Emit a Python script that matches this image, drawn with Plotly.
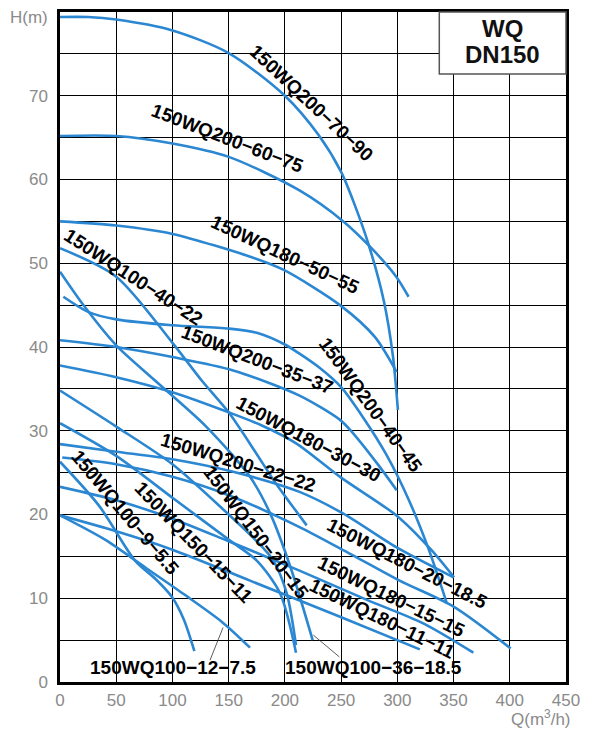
import plotly.graph_objects as go

# ---- data (Q in m3/h, H in m) ----
names = [
    "150WQ200−70−90", "150WQ200−60−75", "150WQ180−50−55", "150WQ100−40−22",
    "150WQ100−36−18.5", "150WQ200−40−45", "150WQ200−35−37", "150WQ180−30−30",
    "150WQ200−22−22", "150WQ180−20−18.5", "150WQ180−15−15", "150WQ180−11−11",
    "150WQ100−12−7.5", "150WQ100−9−5.5", "150WQ150−20−15", "150WQ150−15−11",
]
q_200_70_90 = [0, 25, 50, 100, 150, 200, 230, 250, 262, 275, 288, 296, 300.5]
h_200_70_90 = [79.4, 79.4, 79.1, 77.8, 75.1, 70.0, 65.3, 60.9, 57.0, 52.0, 45.5, 39.0, 32.5]
q_200_60_75 = [0, 50, 100, 150, 213, 252, 277, 299, 310]
h_200_60_75 = [65.2, 65.2, 64.3, 62.7, 58.7, 55.0, 51.8, 48.4, 46.0]
q_180_50_55 = [0, 50, 100, 173, 199, 249, 280, 299.4]
h_180_50_55 = [55.0, 54.5, 53.5, 50.6, 49.2, 45.0, 41.2, 37.0]
q_100_40_22 = [0, 50, 100, 126, 150, 175, 190, 219.4]
h_100_40_22 = [51.8, 48.4, 40.5, 36.0, 32.2, 27.2, 24.1, 18.7]
q_100_36_18 = [0, 22, 50, 84.5, 130, 169, 187, 205, 224.7]
h_100_36_18 = [49.0, 44.8, 40.2, 36.0, 30.5, 24.5, 20.1, 13.7, 5.0]
q_200_40_45 = [3, 25, 50, 100, 150, 175, 200, 213, 230, 250, 270, 290, 310, 328, 344]
h_200_40_45 = [46.0, 44.2, 43.3, 42.6, 42.2, 41.7, 40.3, 39.2, 37.6, 35.2, 31.5, 27.2, 21.8, 15.8, 9.4]
q_200_35_37 = [0, 50, 100, 154, 213, 249, 258, 282, 299.4]
h_200_35_37 = [40.8, 40.0, 38.8, 37.2, 34.2, 31.3, 30.1, 26.1, 22.9]
q_180_30_30 = [0, 50, 100, 150, 180, 210, 250, 300, 330, 350.4]
h_180_30_30 = [37.8, 36.4, 34.6, 32.2, 30.6, 28.5, 24.4, 19.8, 15.8, 12.5]
q_200_22_22 = [0, 50, 100, 154, 213, 252, 299, 350]
h_200_22_22 = [28.4, 27.5, 26.6, 25.1, 22.7, 20.1, 16.1, 12.5]
q_180_20_18 = [2, 50, 100, 150, 213, 258, 302, 350, 400.8]
h_180_20_18 = [26.8, 26.0, 24.5, 22.3, 18.5, 15.3, 12.1, 9.0, 4.0]
q_180_15_15 = [0, 50, 100, 150, 213, 273, 323, 367.6]
h_180_15_15 = [23.3, 21.7, 19.5, 16.8, 13.3, 9.8, 7.0, 3.5]
q_180_11_11 = [0, 50, 100, 169, 249, 320]
h_180_11_11 = [19.9, 18.0, 15.8, 12.1, 7.8, 3.9]
q_100_12_7 = [0, 40, 75.6, 110, 143.8, 169]
h_100_12_7 = [19.9, 17.0, 13.7, 10.5, 7.2, 4.1]
q_100_9_5 = [0, 35, 66.7, 85, 99.3, 110, 119.5]
h_100_9_5 = [26.3, 21.0, 14.5, 12.3, 10.2, 7.5, 3.7]
q_150_20_15 = [0, 50, 100, 150, 175, 189.7, 201.6, 209.9]
h_150_20_15 = [34.8, 30.5, 26.0, 20.0, 16.8, 14.5, 10.6, 4.4]
q_150_15_11 = [0, 50, 100, 150, 175, 195.7, 209.9]
h_150_15_11 = [30.9, 27.0, 22.0, 17.0, 14.5, 10.6, 3.5]

curves_q = [q_200_70_90, q_200_60_75, q_180_50_55, q_100_40_22, q_100_36_18,
            q_200_40_45, q_200_35_37, q_180_30_30, q_200_22_22, q_180_20_18,
            q_180_15_15, q_180_11_11, q_100_12_7, q_100_9_5, q_150_20_15, q_150_15_11]
curves_h = [h_200_70_90, h_200_60_75, h_180_50_55, h_100_40_22, h_100_36_18,
            h_200_40_45, h_200_35_37, h_180_30_30, h_200_22_22, h_180_20_18,
            h_180_15_15, h_180_11_11, h_100_12_7, h_100_9_5, h_150_20_15, h_150_15_11]

# label placement (data coords) and rotation
label_x = [224.1, 149.4, 200.1, 65.8, 278.4, 275.7, 175.2, 221.4,
           158.3, 308.6, 294.4, 286.4, 100.1, 57.8, 174.3, 119.2]
label_y = [69.1, 64.9, 51.1, 48.3, 1.75, 33.1, 38.5, 28.9,
           26.2, 14.2, 10.2, 7.6, 1.75, 20.2, 17.8, 16.7]
label_ang = [43, 21, 25, 33, 0, 54, 21, 28, 17, 27, 26, 26, 0, 50, 53, 46]

x_ticks = [0, 50, 100, 150, 200, 250, 300, 350, 400, 450]
y_ticks = [0, 10, 20, 30, 40, 50, 60, 70]

BLUE = "#2b87d1"
FONT = "Liberation Sans"

fig = go.Figure()
for nm, q, h in zip(names, curves_q, curves_h):
    fig.add_trace(go.Scatter(x=q, y=h, mode="lines", name=nm,
                             line=dict(color=BLUE, width=2.6, shape="spline", smoothing=0.8),
                             hoverinfo="x+y+name", showlegend=False))

for nm, lx, ly, la in zip(names, label_x, label_y, label_ang):
    fig.add_annotation(x=lx, y=ly, text="<b>%s</b>" % nm, showarrow=False,
                       xanchor="center", yanchor="middle",
                       textangle=la, font=dict(family=FONT, size=19, color="black"))

# leader lines
fig.add_shape(type="line", x0=133.4, y0=2.6, x1=145, y1=6.5, line=dict(color="#333", width=0.8))
fig.add_shape(type="line", x0=225.3, y0=5.6, x1=248.4, y1=3.0, line=dict(color="#333", width=0.8))

# title box
fig.add_shape(type="rect", xref="paper", yref="paper", x0=0.7496, x1=1.0, y0=0.9075, y1=1.0,
              fillcolor="white", line=dict(color="#555", width=1.5), layer="above")
fig.add_annotation(xref="paper", yref="paper", x=0.8748, y=(682 - 28.5) / 670, text="<b>WQ</b>",
                   xanchor="center", yanchor="middle",
                   showarrow=False, font=dict(family=FONT, size=24, color="#111"))
fig.add_annotation(xref="paper", yref="paper", x=0.8748, y=(682 - 54.5) / 670, text="<b>DN150</b>",
                   xanchor="center", yanchor="middle",
                   showarrow=False, font=dict(family=FONT, size=24, color="#111"))

# axis titles
fig.add_annotation(xref="paper", yref="paper", x=-0.0198, y=(682 - 18) / 670,
                   xanchor="right", yanchor="middle",
                   text="H(m)", showarrow=False, font=dict(family=FONT, size=17, color="#8a8a8a"))
fig.add_annotation(xref="paper", yref="paper", x=1.0138, y=(682 - 718) / 670,
                   xanchor="right", yanchor="middle",
                   text="Q(m<sup>3</sup>/h)", showarrow=False,
                   font=dict(family=FONT, size=17, color="#8a8a8a"))

fig.update_xaxes(range=[0, 450], tickvals=x_ticks, ticktext=[str(v) for v in x_ticks],
                 showgrid=True, gridcolor="black", gridwidth=1,
                 showline=True, linecolor="black", linewidth=2.5, mirror=True,
                 ticks="outside", ticklen=1, tickcolor="rgba(0,0,0,0)",
                 tickfont=dict(family=FONT, size=17, color="#8a8a8a"),
                 zeroline=False, fixedrange=True, automargin=False)
fig.update_yaxes(range=[0, 80], tickvals=y_ticks, ticktext=[str(v) for v in y_ticks],
                 showgrid=True, gridcolor="black", gridwidth=1,
                 minor=dict(dtick=5, showgrid=True, gridcolor="black", gridwidth=1),
                 showline=True, linecolor="black", linewidth=2.5, mirror=True,
                 ticks="outside", ticklen=6, tickcolor="rgba(0,0,0,0)",
                 tickfont=dict(family=FONT, size=17, color="#8a8a8a"),
                 zeroline=False, fixedrange=True, automargin=False)

fig.update_layout(width=607, height=733, margin=dict(l=60, r=41, t=12, b=51),
                  paper_bgcolor="white", plot_bgcolor="white", showlegend=False)

fig.write_html("out.html", config={"displayModeBar": False},
               post_script="document.body.style.margin='0px';document.body.style.overflow='hidden';")
